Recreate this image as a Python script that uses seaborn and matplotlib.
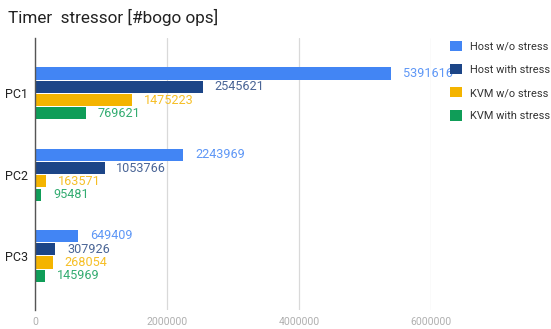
import matplotlib
matplotlib.use("Agg")
import matplotlib.pyplot as plt
import seaborn as sns
import pandas as pd

# Benchmark results: timer stressor, bogo operations per machine
machines = ["PC1", "PC2", "PC3"]
series = ["Host w/o stress", "Host with stress", "KVM w/o stress", "KVM with stress"]
host_no_stress = [5391616, 2243969, 649409]
host_stress = [2545621, 1053766, 307926]
kvm_no_stress = [1475223, 163571, 268054]
kvm_stress = [769621, 95481, 145969]
x_ticks = [0, 2000000, 4000000, 6000000]

bar_colors = ["#4285f4", "#1c4587", "#f4b400", "#0f9d58"]
label_colors = ["#5e97f6", "#4a6596", "#f6bf26", "#33ac71"]

values = [host_no_stress, host_stress, kvm_no_stress, kvm_stress]
rows = []
for name, vals in zip(series, values):
    for m, v in zip(machines, vals):
        rows.append({"machine": m, "series": name, "ops": v})
df = pd.DataFrame(rows)

sns.set_style("white")
plt.rcParams["font.family"] = ["Roboto", "DejaVu Sans"]

fig = plt.figure(figsize=(5.51, 3.29), dpi=100)
ax = fig.add_axes([35 / 551, 1 - 310 / 329, (431 - 35) / 551, (310 - 38) / 329])

sns.barplot(
    data=df, x="ops", y="machine", hue="series", orient="h",
    order=machines, hue_order=series, palette=bar_colors,
    width=0.655, gap=0.09, saturation=1, linewidth=0, ax=ax, legend=True,
)

for cont, col in zip(ax.containers, label_colors):
    ax.bar_label(cont, labels=[f"{int(v)}" for v in cont.datavalues],
                 padding=8.5, color=col, fontsize=9.1)

ax.set_xlim(0, 6000000)
ax.set_ylim(2.667, -0.683)
ax.set_xticks(x_ticks)
ax.set_xticklabels([str(t) for t in x_ticks])
ax.set_xlabel("")
ax.set_ylabel("")

ax.xaxis.grid(True, color="#d9d9d9", linewidth=0.9)
ax.yaxis.grid(False)
ax.set_axisbelow(True)
for side in ["top", "right", "bottom"]:
    ax.spines[side].set_visible(False)
ax.spines["left"].set_color("#555555")
ax.spines["left"].set_linewidth(1.0)
ax.spines["left"].set_zorder(5)

ax.tick_params(axis="x", length=0, pad=5, labelsize=7.6, labelcolor="#b0b0b0")
ax.tick_params(axis="y", length=0, pad=5, labelsize=9, labelcolor="#222222")

handles, labels = ax.get_legend_handles_labels()
ax.legend(handles, labels, loc="upper left", bbox_to_anchor=(450 / 551, 1 - 41 / 329),
          bbox_transform=fig.transFigure, frameon=False, fontsize=7.9,
          handlelength=1.05, handleheight=1.05, handletextpad=0.8,
          labelspacing=1.12, borderaxespad=0, borderpad=0, labelcolor="#333333")

fig.text(8 / 551, 1 - 17 / 329, "Timer  stressor [#bogo ops]", fontsize=12.3,
         color="#222222", va="center", ha="left")

fig.savefig("out.png", dpi=100)
